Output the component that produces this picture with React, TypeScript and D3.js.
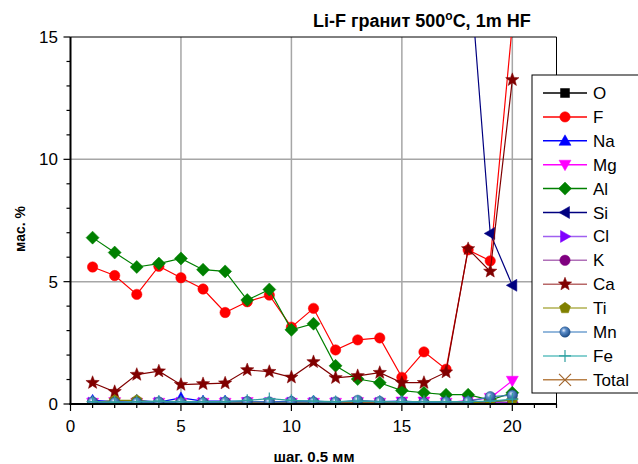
import * as d3 from "d3";

// measuring steps (шаг 0.5 мм)
const steps = [1, 2, 3, 4, 5, 6, 7, 8, 9, 10, 11, 12, 13, 14, 15, 16, 17, 18, 19, 20];

// мас. % per element; O, Si (steps 1-18) and Total lie above the visible range
const O = [47.5, 47.2, 47.8, 47.1, 47.4, 47.6, 47.3, 47.9, 47.2, 48.1, 47.7, 48.3, 48.5, 48.2, 48.6, 48.4, 48.8, 46.2, 45.8, 45.1];
const F = [5.6, 5.25, 4.48, 5.63, 5.16, 4.7, 3.74, 4.18, 4.45, 3.14, 3.91, 2.21, 2.62, 2.7, 1.09, 2.13, 1.42, 6.3, 5.85, 15.5];
const Na = [0.15, 0.1, 0.15, 0.08, 0.25, 0.12, 0.12, 0.1, 0.08, 0.12, 0.12, 0.08, 0.12, 0.1, 0.12, 0.08, 0.05, 0.05, 0.1, 0.15];
const Mg = [0.05, 0.08, 0.05, 0.05, 0.05, 0.05, 0.05, 0.08, 0.05, 0.05, 0.05, 0.05, 0.08, 0.05, 0.1, 0.1, 0.05, 0.15, 0.25, 0.95];
const Al = [6.8, 6.19, 5.6, 5.74, 5.95, 5.49, 5.42, 4.25, 4.68, 3.03, 3.28, 1.56, 1.02, 0.87, 0.55, 0.46, 0.38, 0.38, 0.16, 0.46];
const Si = [33.1, 33.4, 33.9, 33.2, 33.0, 33.6, 33.8, 34.2, 33.7, 34.5, 34.1, 35.0, 35.3, 35.1, 35.6, 35.4, 35.2, 18.6, 6.97, 4.85];
const Cl = [0.04, 0.03, 0.03, 0.04, 0.03, 0.03, 0.04, 0.03, 0.03, 0.04, 0.03, 0.03, 0.04, 0.03, 0.03, 0.04, 0.03, 0.03, 0.04, 0.05];
const K = [0.02, 0.02, 0.03, 0.02, 0.02, 0.02, 0.03, 0.02, 0.02, 0.02, 0.03, 0.02, 0.02, 0.02, 0.03, 0.02, 0.02, 0.02, 0.03, 0.04];
const Ca = [0.87, 0.5, 1.2, 1.34, 0.79, 0.82, 0.85, 1.39, 1.32, 1.09, 1.72, 1.07, 1.15, 1.28, 0.87, 0.87, 1.3, 6.34, 5.42, 13.25];
const Ti = [0.05, 0.15, 0.15, 0.05, 0.05, 0.05, 0.05, 0.05, 0.05, 0.05, 0.05, 0.05, 0.05, 0.05, 0.05, 0.05, 0.05, 0.05, 0.1, 0.15];
const Mn = [0.08, 0.06, 0.06, 0.08, 0.06, 0.06, 0.08, 0.1, 0.08, 0.1, 0.08, 0.08, 0.15, 0.1, 0.08, 0.05, 0.08, 0.1, 0.3, 0.36];
const Fe = [0.1, 0.08, 0.1, 0.12, 0.1, 0.1, 0.1, 0.15, 0.22, 0.15, 0.12, 0.1, 0.12, 0.1, 0.1, 0.1, 0.1, 0.1, 0.12, 0.2];
const Total = [99.2, 99.5, 99.1, 99.4, 99.6, 99.3, 99.0, 99.5, 99.2, 99.4, 99.1, 99.3, 99.6, 99.2, 99.0, 99.4, 99.3, 99.1, 99.5, 99.2];

const xTicks = [0, 5, 10, 15, 20];
const yTicks = [0, 5, 10, 15];

const series = [
  { name: "O", values: O, line: "#000000", legendLine: "#000000", fill: "#000000", marker: "square" },
  { name: "F", values: F, line: "#ff0000", legendLine: "#ff0000", fill: "#ff0000", marker: "circle" },
  { name: "Na", values: Na, line: "#0000ff", legendLine: "#0000ff", fill: "#0000ff", marker: "up" },
  { name: "Mg", values: Mg, line: "#ff00ff", legendLine: "#ff00ff", fill: "#ff00ff", marker: "down" },
  { name: "Al", values: Al, line: "#008000", legendLine: "#008000", fill: "#008000", marker: "diamond" },
  { name: "Si", values: Si, line: "#000080", legendLine: "#000080", fill: "#000080", marker: "left" },
  { name: "Cl", values: Cl, line: "#8000ff", legendLine: "#a060f0", fill: "#8000ff", marker: "right" },
  { name: "K", values: K, line: "#800080", legendLine: "#b070b8", fill: "#800080", marker: "circle" },
  { name: "Ca", values: Ca, line: "#800000", legendLine: "#b86868", fill: "#800000", marker: "star" },
  { name: "Ti", values: Ti, line: "#808000", legendLine: "#b0b050", fill: "#808000", marker: "pentagon" },
  { name: "Mn", values: Mn, line: "#3a78b0", legendLine: "#70a0d0", fill: "url(#sphere)", marker: "sphere" },
  { name: "Fe", values: Fe, line: "#30a0a0", legendLine: "#60c0c0", fill: "#30a0a0", marker: "plus" },
  { name: "Total", values: Total, line: "#a0642c", legendLine: "#b88048", fill: "#a0642c", marker: "cross" },
];

function markerPath(kind: string): string {
  switch (kind) {
    case "square":
      return "M-4.5,-4.5H4.5V4.5H-4.5Z";
    case "up":
      return "M0,-6L6,4.5H-6Z";
    case "down":
      return "M0,6L6,-4.5H-6Z";
    case "left":
      return "M-6,0L4.5,-6V6Z";
    case "right":
      return "M6,0L-4.5,-6V6Z";
    case "diamond":
      return "M0,-6.5L6.5,0L0,6.5L-6.5,0Z";
    case "star": {
      const pts = d3.range(10).map((i) => {
        const r = i % 2 === 0 ? 7 : 3;
        const a = (i * Math.PI) / 5 - Math.PI / 2;
        return [r * Math.cos(a), r * Math.sin(a)];
      });
      return "M" + pts.map((p) => p.join(",")).join("L") + "Z";
    }
    case "pentagon": {
      const pts = d3.range(5).map((i) => {
        const a = (i * 2 * Math.PI) / 5 - Math.PI / 2;
        return [5.8 * Math.cos(a), 5.8 * Math.sin(a)];
      });
      return "M" + pts.map((p) => p.join(",")).join("L") + "Z";
    }
    case "plus":
      return "M-6,0H6M0,-6V6";
    case "cross":
      return "M-6,-6L6,6M-6,6L6,-6";
    default:
      return "";
  }
}

function Marker({ kind, x, y, fill, stroke }: any) {
  if (kind === "circle" || kind === "sphere") {
    return <circle cx={x} cy={y} r={5.2} fill={fill} stroke={kind === "sphere" ? "#1c4a80" : fill} strokeWidth={0.5} />;
  }
  const open = kind === "plus" || kind === "cross";
  return (
    <path
      d={markerPath(kind)}
      transform={`translate(${x},${y})`}
      fill={open ? "none" : fill}
      stroke={open ? stroke : fill}
      strokeWidth={open ? 1.2 : 0.5}
    />
  );
}

export default function App() {
  const left = 70.5;
  const right = 556.5;
  const top = 37;
  const bottom = 404;

  const x = d3.scaleLinear().domain([0, 22]).range([left, right]);
  const y = d3.scaleLinear().domain([0, 15]).range([bottom, top]);

  const line = d3
    .line<number>()
    .x((_, i) => x(steps[i]))
    .y((d) => y(d));

  const font = "'Liberation Sans', Arial, sans-serif";
  const minorX = d3.range(0, 23, 1);
  const minorY = d3.range(0, 16, 1);

  const legendX = 532;
  const legendTop = 75;
  const legendStep = 23.9;

  return (
    <svg width={638} height={464} style={{ position: "absolute", left: 0, top: 0 }} fontFamily={font}>
      <defs>
        <clipPath id="plotClip">
          <rect x={left} y={top} width={right - left} height={bottom - top} />
        </clipPath>
        <radialGradient id="sphere" cx="0.38" cy="0.35" r="0.65">
          <stop offset="0" stopColor="#e8f0ff" />
          <stop offset="0.35" stopColor="#5a8cc8" />
          <stop offset="1" stopColor="#1f4f8a" />
        </radialGradient>
      </defs>
      <rect width={638} height={464} fill="#ffffff" />

      {/* grid */}
      {xTicks.filter((t) => t > 0).map((t) => (
        <line key={`gx${t}`} x1={x(t)} x2={x(t)} y1={top} y2={bottom} stroke="#a6a6a6" strokeWidth={1.5} />
      ))}
      {yTicks.filter((t) => t > 0 && t < 15).map((t) => (
        <line key={`gy${t}`} x1={left} x2={right} y1={y(t)} y2={y(t)} stroke="#a6a6a6" strokeWidth={1.5} />
      ))}

      {/* frame */}
      <line x1={left} x2={right} y1={top} y2={top} stroke="#000" strokeWidth={1} />
      <line x1={right} x2={right} y1={top} y2={bottom} stroke="#000" strokeWidth={1} />

      {/* series */}
      <g clipPath="url(#plotClip)">
        {series.map((s) => (
          <g key={s.name}>
            <path d={line(s.values) || ""} fill="none" stroke={s.line} strokeWidth={1.2} />
            {s.values.map((v, i) => (
              <Marker key={i} kind={s.marker} x={x(steps[i])} y={y(v)} fill={s.fill} stroke={s.line} />
            ))}
          </g>
        ))}
      </g>

      {/* axes */}
      <line x1={left} x2={left} y1={top} y2={bottom + 1} stroke="#000" strokeWidth={2} />
      <line x1={left - 1} x2={right} y1={bottom} y2={bottom} stroke="#000" strokeWidth={2} />
      {minorX.map((t) => (
        <line key={`tx${t}`} x1={x(t)} x2={x(t)} y1={bottom} y2={bottom + (t % 5 === 0 ? 7 : 4)} stroke="#000" strokeWidth={1.2} />
      ))}
      {minorY.map((t) => (
        <line key={`ty${t}`} x1={left - (t % 5 === 0 ? 7 : 4)} x2={left} y1={y(t)} y2={y(t)} stroke="#000" strokeWidth={1.2} />
      ))}
      {xTicks.map((t) => (
        <text key={`lx${t}`} x={x(t)} y={432} textAnchor="middle" fontSize={17}>
          {t}
        </text>
      ))}
      {yTicks.map((t) => (
        <text key={`ly${t}`} x={58} y={y(t) + 6} textAnchor="end" fontSize={17}>
          {t}
        </text>
      ))}

      {/* titles */}
      <text x={313} y={27} fontSize={18} fontWeight="bold">
        Li-F гранит 500
        <tspan fontSize={12} dy={-7}>o</tspan>
        <tspan dy={7}>C, 1m HF</tspan>
      </text>
      <text x={314} y={462} textAnchor="middle" fontSize={15} fontWeight="bold">
        шаг. 0.5 мм
      </text>
      <text transform="translate(25,229) rotate(-90)" textAnchor="middle" fontSize={14} fontWeight="bold">
        мас. %
      </text>

      {/* legend */}
      <rect x={legendX} y={legendTop} width={120} height={318} fill="#ffffff" stroke="#000" strokeWidth={1} />
      {series.map((s, i) => {
        const cy = legendTop + 18 + i * legendStep;
        return (
          <g key={`lg${s.name}`}>
            <line x1={543} x2={587} y1={cy} y2={cy} stroke={s.legendLine} strokeWidth={1.5} />
            <Marker kind={s.marker} x={565} y={cy} fill={s.fill} stroke={s.line} />
            <text x={593} y={cy + 6} fontSize={17}>
              {s.name}
            </text>
          </g>
        );
      })}
    </svg>
  );
}
